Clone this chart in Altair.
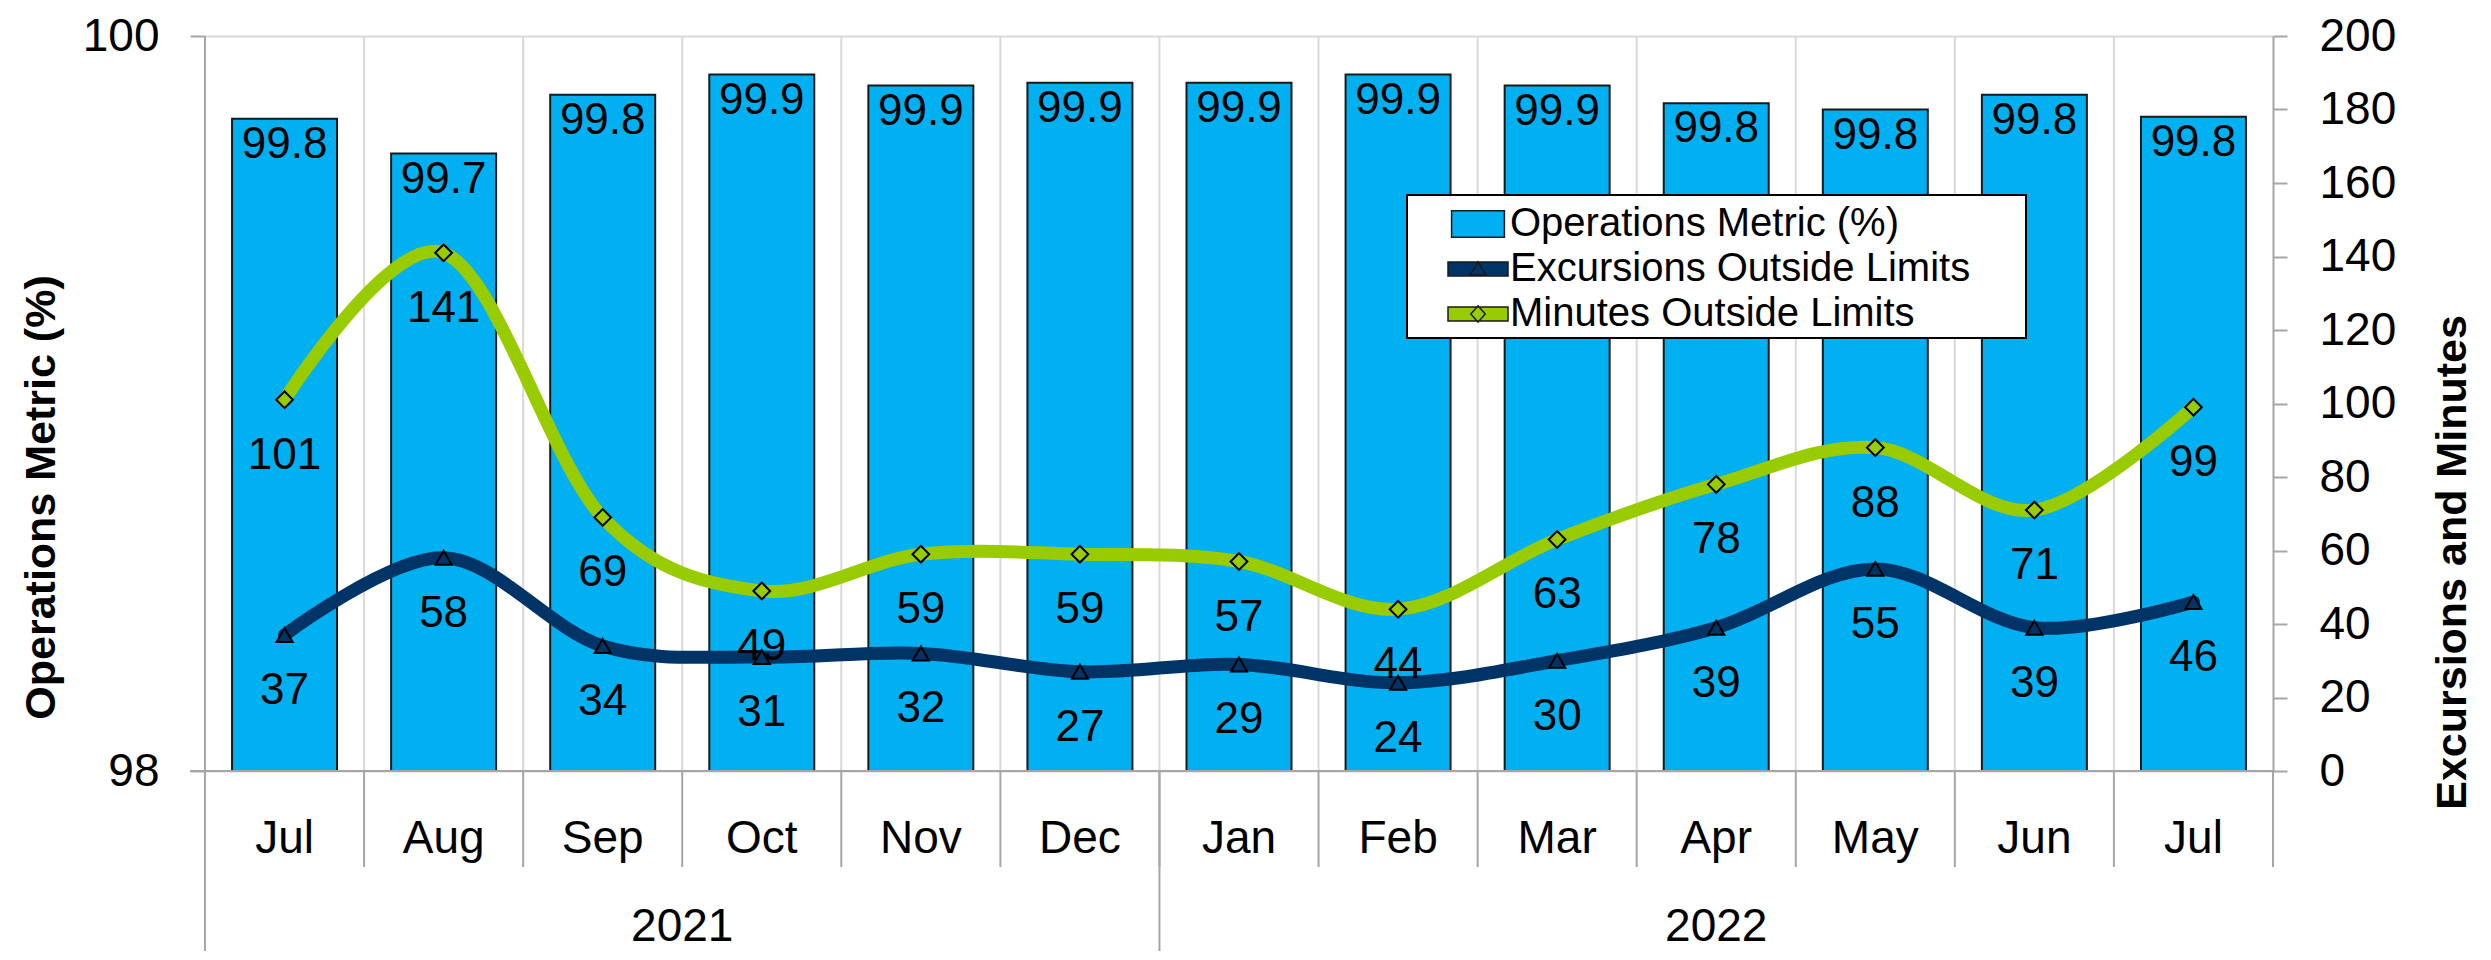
import altair as alt
import pandas as pd

# ---------------- data ----------------
months = ["Jul", "Aug", "Sep", "Oct", "Nov", "Dec", "Jan", "Feb", "Mar", "Apr", "May", "Jun", "Jul"]
years = ["2021"] * 6 + ["2022"] * 7
ops_metric = [99.775, 99.68, 99.84, 99.895, 99.865, 99.873, 99.873, 99.895, 99.865, 99.817, 99.80, 99.84, 99.78]
excursions = [37, 58, 34, 31, 32, 27, 29, 24, 30, 39, 55, 39, 46]
minutes = [101, 141, 69, 49, 59, 59, 57, 44, 63, 78, 88, 71, 99]
series_names = ["Operations Metric (%)", "Excursions Outside Limits", "Minutes Outside Limits"]
series_colors = ["#00b0f0", "#003366", "#99cc00"]
left_ticks = [98, 99, 100]
right_ticks = list(range(0, 201, 20))

# ---------------- layout / style ----------------
W, H = 2068, 735
FONT = "Liberation Sans, Arial, sans-serif"
GRID = "#d9d9d9"
AXIS = "#a6a6a6"
TICK_FS = 46
TITLE_FS = 43

n = len(months)
df = pd.DataFrame({"idx": range(n), "month": months, "year": years,
                   "ops": ops_metric, "exc": excursions, "mins": minutes})
df["x0"] = df["idx"] + 0.17
df["x1"] = df["idx"] + 0.83
df["xc"] = df["idx"] + 0.5

bounds = pd.DataFrame({"b": list(range(n + 1))})
year_starts = pd.DataFrame({"b": [i for i in range(n) if i == 0 or years[i] != years[i - 1]]})
yl = df.groupby("year", as_index=False).agg(first=("idx", "min"), last=("idx", "max"))
yl["xc"] = (yl["first"] + yl["last"] + 1) / 2

xs = alt.Scale(domain=[0, n])
yls = alt.Scale(domain=[98, 100], zero=False)
yrs = alt.Scale(domain=[0, 200])

left_axis = alt.Axis(values=left_ticks, orient="left", grid=True, gridColor=GRID, gridWidth=2,
                     domain=False, tickColor=AXIS, tickWidth=2, tickSize=15,
                     labelFont=FONT, labelFontSize=TICK_FS, labelPadding=31, labelColor="black",
                     labelFlush=False, format="d",
                     title="Operations Metric (%)", titleFont=FONT, titleFontWeight="bold",
                     titleFontSize=TITLE_FS, titleColor="black", titleAngle=270,
                     titleX=-164, titleY=461, titleAlign="center", titleBaseline="middle")

right_axis = alt.Axis(values=right_ticks, orient="right", grid=False, domain=True,
                      domainColor=AXIS, domainWidth=2, tickColor=AXIS, tickWidth=2, tickSize=14,
                      labelFont=FONT, labelFontSize=TICK_FS, labelPadding=32, labelColor="black",
                      labelFlush=False,
                      title="Excursions and Minutes", titleFont=FONT, titleFontWeight="bold",
                      titleFontSize=TITLE_FS, titleColor="black", titleAngle=270,
                      titleX=179, titleY=526, titleAlign="center", titleBaseline="middle")

# ---------------- left-scale layer ----------------
vgrid = alt.Chart(bounds).transform_filter(f"datum.b > 0 && datum.b < {n}").mark_rule(
    color=GRID, strokeWidth=2).encode(
    x=alt.X("b:Q", scale=xs, axis=None), y=alt.value(0), y2=alt.value(H))

bars = alt.Chart(df).mark_bar(color="#00b0f0", stroke="#1a1a1a", strokeWidth=2).encode(
    x=alt.X("x0:Q", scale=xs, axis=None), x2="x1:Q",
    y=alt.Y("ops:Q", scale=yls, axis=left_axis), y2=alt.datum(98))

bar_text = alt.Chart(df).mark_text(font=FONT, fontSize=44, baseline="alphabetic", dy=39,
                                   color="black").encode(
    x=alt.X("xc:Q", scale=xs, axis=None), y=alt.Y("ops:Q", scale=yls, axis=left_axis),
    text=alt.Text("ops:Q", format=".1f"))

base_rule = alt.Chart(bounds).transform_filter("datum.b == 0").mark_rule(
    color=AXIS, strokeWidth=2).encode(
    x=alt.value(-15), x2=alt.value(W), y=alt.value(H))

left_line = alt.Chart(bounds).transform_filter("datum.b == 0").mark_rule(
    color=AXIS, strokeWidth=2).encode(
    x=alt.X("b:Q", scale=xs, axis=None), y=alt.value(0), y2=alt.value(H + 180))

month_div = alt.Chart(bounds).transform_filter("datum.b > 0").mark_rule(
    color=AXIS, strokeWidth=2).encode(
    x=alt.X("b:Q", scale=xs, axis=None), y=alt.value(H), y2=alt.value(H + 96))

year_div = alt.Chart(year_starts).transform_filter("datum.b > 0").mark_rule(
    color=AXIS, strokeWidth=2).encode(
    x=alt.X("b:Q", scale=xs, axis=None), y=alt.value(H), y2=alt.value(H + 180))

month_text = alt.Chart(df).mark_text(font=FONT, fontSize=TICK_FS, baseline="alphabetic",
                                     color="black").encode(
    x=alt.X("xc:Q", scale=xs, axis=None), y=alt.value(H + 82), text="month:N")

year_text = alt.Chart(yl).mark_text(font=FONT, fontSize=TICK_FS, baseline="alphabetic",
                                    color="black").encode(
    x=alt.X("xc:Q", scale=xs, axis=None), y=alt.value(H + 170), text="year:N")

left_layer = alt.layer(vgrid, bars, bar_text, base_rule, left_line, month_div, year_div,
                       month_text, year_text)


# ---------------- right-scale layer ----------------
def series(field, color, shape, msize):
    base = alt.Chart(df).encode(x=alt.X("xc:Q", scale=xs, axis=None),
                                y=alt.Y(f"{field}:Q", scale=yrs, axis=right_axis))
    line = base.mark_line(color=color, strokeWidth=13, interpolate="cardinal", strokeCap="round")
    pts = base.mark_point(shape=shape, size=msize, filled=True, fill=color, stroke="black",
                          strokeWidth=2, opacity=1)
    txt = base.mark_text(font=FONT, fontSize=44, baseline="alphabetic", dy=69,
                         color="black").encode(text=f"{field}:Q")
    return line, pts, txt


exc_line, exc_pts, exc_txt = series("exc", series_colors[1], "triangle-up", 260)
min_line, min_pts, min_txt = series("mins", series_colors[2], "diamond", 280)

shape_paths = [
    "M-1.1,-0.55L1.1,-0.55L1.1,0.55L-1.1,0.55Z",
    "M-1.25,-0.29L1.25,-0.29L1.25,0.29L-1.25,0.29Z M0,-0.3L0.33,0.25L-0.33,0.25Z",
    "M-1.25,-0.29L1.25,-0.29L1.25,0.29L-1.25,0.29Z M0,-0.34L0.3,0L0,0.34L-0.3,0Z",
]
# trailing blank (non-trimmed) characters widen the legend box to the reference's width
leg = alt.Legend(title=None, orient="none", legendX=1202, legendY=159,
                 labelFont=FONT, labelFontSize=40, labelColor="black", labelOffset=7,
                 symbolOffset=42, symbolSize=2304, symbolStrokeWidth=1.5, symbolOpacity=1,
                 labelLimit=1000,
                 labelExpr="datum.label + '\u00a0\u00a0\u2800'")
legend_layer = alt.Chart(pd.DataFrame({"series": series_names})).transform_filter("false").mark_point(
    filled=True, strokeWidth=1.5, opacity=1).encode(
    fill=alt.Fill("series:N", scale=alt.Scale(domain=series_names, range=series_colors), legend=leg),
    shape=alt.Shape("series:N", scale=alt.Scale(domain=series_names, range=shape_paths), legend=leg),
    stroke=alt.Stroke("series:N", scale=alt.Scale(domain=series_names,
                                                  range=["#1a1a1a", "#1a1a1a", "#1a1a1a"]),
                      legend=leg))

right_layer = alt.layer(exc_line, min_line, exc_pts, min_pts, exc_txt, min_txt, legend_layer)

chart = alt.layer(left_layer, right_layer).resolve_scale(y="independent").properties(
    width=W, height=H,
    padding={"left": 197, "top": 28, "right": 210, "bottom": 180},
    autosize=alt.AutoSizeParams(type="none"),
    background="white",
).configure_view(strokeWidth=0).configure_legend(
    strokeColor="black", strokeWidth=2, fillColor="white", padding=4, rowPadding=0,
    cornerRadius=0)

chart.save("out.html", embed_options={"renderer": "svg", "actions": False})
